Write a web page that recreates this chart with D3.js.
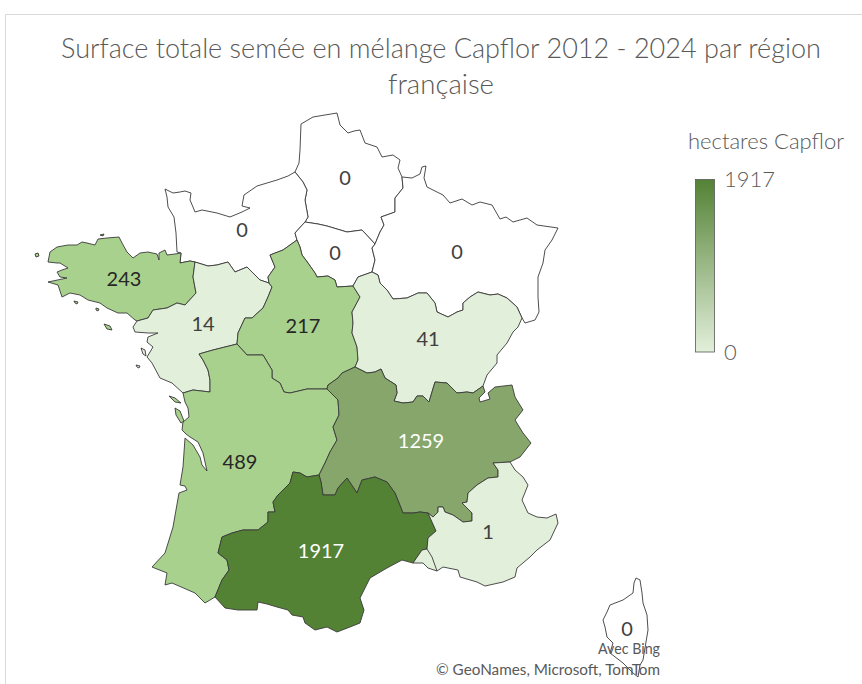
<!DOCTYPE html>
<html>
<head>
<meta charset="utf-8">
<script src="https://cdn.jsdelivr.net/npm/d3@7"></script>
<style>
  html, body { margin: 0; background: #fff; }
  text { font-family: Lato, "Open Sans", sans-serif; }
</style>
</head>
<body>
<div id="chart"></div>
<script>
const titleLines = ["Surface totale semée en mélange Capflor 2012 - 2024 par région", "française"]
const legendTitle = "hectares Capflor"
const creditLines = ["Avec Bing", "© GeoNames, Microsoft, TomTom"]

const regionNames = ["Hauts-de-France", "Normandie", "Ile-de-France", "Grand Est", "Bretagne", "Pays de la Loire",
    "Centre-Val de Loire", "Bourgogne-Franche-Comté", "Nouvelle-Aquitaine", "Auvergne-Rhône-Alpes", "Occitanie", "PACA", "Corse"]
const regionValues = [0, 0, 0, 0, 243, 14, 217, 41, 489, 1259, 1917, 1, 0]

const legendDomain = [0, 1917]
const classBreaks = [1, 100, 1000, 1500]
const classColors = ["#ffffff", "#e2efda", "#a9d18e", "#86a66b", "#548235"]

// map outlines, traced in map units, shared borders kept as single arcs
const coastNorm = [[181,253],[177,252],[176,233],[174,217],[168,207],[167,197],[165,189],[173,193],[180,192],[185,191],[191,193],[190,200],[193,207],[195,212],[202,210],[217,213],[230,217],[242,212],[250,208],[242,206],[244,195],[257,186],[277,180],[288,176],[295,172]]
const coastHdf = [[295,172],[299,163],[300,150],[301,124],[313,117],[337,113],[340,125],[348,133],[354,131],[360,130],[365,143],[377,147],[382,157],[393,155],[400,160],[398,168],[402,177]]
const coastGe = [[402,177],[412,178],[420,174],[422,167],[426,166],[424,178],[427,187],[443,195],[450,203],[462,199],[472,205],[480,202],[492,205],[500,219],[506,217],[513,222],[527,218],[537,225],[558,228],[552,240],[545,250],[543,263],[538,277],[538,297],[539,312],[535,320],[525,323],[522,318]]
const normHdf = [[295,172],[303,182],[307,190],[305,200],[308,217],[305,222]]
const normIdf = [[305,222],[295,233],[297,240]]
const normCvl = [[297,240],[283,250],[270,255],[275,267],[268,277],[269,283]]
const normPdl = [[269,283],[260,280],[253,273],[247,267],[235,272],[228,262],[217,265],[208,266],[195,262]]
const normBre = [[195,262],[190,261],[180,263],[181,253]]
const hdfGe = [[402,177],[403,188],[395,198],[395,212],[381,217],[384,225],[380,232],[375,244]]
const hdfIdf = [[375,244],[362,230],[347,232],[327,226],[318,224],[305,222]]
const idfGe = [[375,244],[372,248],[375,260],[372,272]]
const idfBfc = [[372,272],[358,277],[353,286]]
const cvlIdf = [[353,286],[337,287],[335,280],[328,276],[317,277],[315,273],[308,263],[302,255],[300,247],[297,240]]
const geBfc = [[522,318],[517,307],[507,298],[498,294],[490,295],[478,292],[470,297],[463,303],[463,310],[457,312],[448,317],[437,312],[435,303],[427,293],[418,293],[407,298],[393,299],[387,290],[380,283],[378,275],[372,272]]
const bfcEast = [[522,318],[518,327],[513,332],[507,343],[497,355],[497,363],[487,375],[483,386]]
const bfcAra = [[483,386],[473,393],[467,392],[457,393],[447,383],[435,382],[429,402],[423,396],[417,396],[413,402],[403,403],[394,401],[397,393],[396,385],[385,378],[381,369],[375,372],[367,373],[355,367]]
const cvlBfc = [[353,286],[360,297],[352,312],[353,323],[352,333],[357,347],[358,360],[355,367]]
const cvlAra = [[355,367],[342,373],[338,378],[328,385],[327,389]]
const cvlNa = [[327,389],[307,389],[290,393],[284,392],[280,383],[272,378],[272,370],[263,355],[258,355],[247,355],[237,344]]
const pdlCvl = [[237,344],[238,333],[245,318],[252,318],[263,308],[268,297],[272,287],[269,283]]
const pdlNa = [[237,344],[213,350],[199,354],[203,360],[208,370],[210,380],[210,392],[193,390],[183,393]]
const coastPdl = [[183,393],[172,383],[160,378],[152,363],[147,357],[153,347],[147,342],[148,337],[158,333],[148,333],[135,332],[133,327],[137,321]]
const coastBre = [[181,253],[175,254],[167,255],[165,250],[159,253],[159,260],[157,254],[148,252],[140,253],[133,258],[127,252],[122,243],[119,237],[107,238],[98,239],[95,245],[87,243],[82,242],[77,245],[68,245],[57,247],[50,252],[48,262],[57,263],[60,263],[68,268],[62,270],[57,272],[60,277],[67,278],[48,282],[58,285],[62,297],[70,293],[80,295],[88,300],[100,303],[107,308],[118,313],[127,313],[135,320],[137,321]]
const brePdl = [[137,321],[148,318],[153,310],[167,308],[177,303],[185,305],[196,293],[193,277],[195,262]]
const coastNa = [[183,393],[185,402],[188,408],[189,417],[183,422],[182,430],[186,434],[190,437],[198,442],[203,453],[207,471],[202,465],[200,457],[193,445],[185,438],[183,467],[180,485],[185,486],[187,490],[179,493],[173,527],[165,553],[152,567],[167,573],[165,585],[172,583],[195,593],[205,603],[215,597]]
const naAra = [[327,389],[338,400],[339,415],[333,427],[337,440],[330,452],[325,463],[319,475]]
const naOcc = [[319,475],[307,477],[300,473],[293,472],[290,483],[278,495],[273,502],[275,512],[268,512],[268,522],[258,530],[243,530],[232,533],[222,537],[218,553],[227,560],[229,570],[222,580],[215,597]]
const coastAra = [[483,386],[485,392],[479,398],[480,402],[490,399],[488,393],[495,387],[512,385],[515,397],[523,410],[515,420],[523,433],[531,443],[520,457],[510,462]]
const araPaca = [[510,462],[493,463],[498,470],[498,477],[488,478],[477,485],[468,493],[467,502],[462,503],[472,513],[472,521],[463,522],[453,515],[445,512],[443,507],[438,507],[438,512],[433,517],[428,513]]
const araOcc = [[428,513],[420,512],[413,513],[403,513],[395,493],[387,482],[375,477],[362,480],[357,493],[347,478],[338,488],[335,495],[323,495],[321,482],[319,475]]
const occPaca = [[428,513],[436,531],[428,538],[427,549],[422,550],[413,563]]
const coastOcc = [[413,563],[402,560],[387,568],[370,578],[365,588],[360,598],[364,610],[360,623],[350,627],[337,632],[327,627],[315,630],[305,623],[303,617],[292,615],[288,610],[277,607],[267,604],[258,602],[257,610],[238,610],[225,608],[215,597]]
const coastPaca = [[510,462],[515,470],[523,477],[528,485],[522,500],[528,513],[537,517],[547,518],[556,514],[558,523],[550,540],[537,550],[530,557],[517,568],[515,577],[503,582],[485,586],[477,582],[460,577],[458,570],[443,567],[437,571],[428,568],[423,563],[413,563]]
const rhone = [[427,549],[432,557],[437,571]]
const corse = [[636,578],[640,580],[642,593],[643,603],[647,615],[648,630],[646,642],[643,660],[640,665],[638,677],[633,673],[623,663],[610,653],[613,643],[607,637],[605,627],[603,620],[607,612],[610,605],[623,600],[633,593],[634,583],[636,578]]

const islandsBre = [[[35,254],[38,253],[39,256],[36,257]],[[74,301],[78,302],[77,304],[75,303]],[[96,308],[99,309],[98,311],[96,310]],[[100,235],[104,234],[103,236]],[[104,324],[110,326],[112,330],[107,329]]]
const islandsPdl = [[[141,348],[145,350],[146,356],[143,354]],[[136,365],[140,366],[139,368],[137,367]]]
const islandsNa = [[[169,396],[175,398],[181,403],[175,402]],[[175,408],[180,411],[184,421],[181,423],[176,415]]]

const rev = a => a.slice().reverse()
const ring = (...parts) => {
    const r = parts.flat()
    r.push(r[0])
    return r
}

const regionRings = [
    ring(coastHdf, hdfGe, hdfIdf, rev(normHdf)),
    ring(coastNorm, normHdf, normIdf, normCvl, normPdl, normBre),
    ring(rev(hdfIdf), idfGe, idfBfc, cvlIdf, rev(normIdf)),
    ring(coastGe, geBfc, rev(idfGe), rev(hdfGe)),
    ring(coastBre, brePdl, normBre),
    ring(rev(normPdl), rev(pdlCvl), pdlNa, coastPdl, brePdl),
    ring(rev(cvlIdf), cvlBfc, cvlAra, cvlNa, pdlCvl, rev(normCvl)),
    ring(rev(geBfc), bfcEast, bfcAra, rev(cvlBfc), rev(idfBfc)),
    ring(rev(cvlNa), naAra, naOcc, rev(coastNa), rev(pdlNa)),
    ring(rev(naAra), rev(cvlAra), rev(bfcAra), coastAra, araPaca, araOcc),
    ring(rev(naOcc), rev(araOcc), occPaca, coastOcc),
    ring(rev(occPaca), rev(araPaca), coastPaca),
    corse
]
const regionIslands = {"Bretagne": islandsBre, "Pays de la Loire": islandsPdl, "Nouvelle-Aquitaine": islandsNa}
const labelAnchors = [[345,178],[242,230],[335,253],[457,252],[124,279],[203,324],[303,326],[428,339],[240,462],[421,441],[321,551],[488,532],[627,629]]

const width = 862, height = 684

const svg = d3.select("#chart")
    .append("svg")
    .attr("width", width)
    .attr("height", height)
    .style("display", "block")

// chart frame, only top and left show in the crop
svg.append("path")
    .attr("d", `M5.5,${height} V14.5 H${width}`)
    .attr("fill", "none")
    .attr("stroke", "#d9d9d9")

// Lato runs wider than the original font, so squeeze the long line to its width
svg.append("g")
    .selectAll("text")
    .data(titleLines)
    .enter()
    .append("text")
    .attr("x", 441)
    .attr("y", (d, i) => 58 + i * 36)
    .attr("text-anchor", "middle")
    .attr("font-size", 28)
    .attr("font-weight", 300)
    .attr("fill", "#595959")
    .attr("textLength", (d, i) => i === 0 ? 760 : 106)
    .attr("lengthAdjust", "spacingAndGlyphs")
    .text(d => d)

const color = d3.scaleThreshold().domain(classBreaks).range(classColors)

const features = regionNames.map((name, i) => {
    const closeIt = r => r.concat([r[0]])
    const islands = (regionIslands[name] || []).map(r => [closeIt(r)])
    return {
        type: "Feature",
        properties: {name, value: regionValues[i]},
        geometry: {type: "MultiPolygon", coordinates: [[regionRings[i]], ...islands]}
    }
})

const projection = d3.geoIdentity()
const path = d3.geoPath().projection(projection)

svg.append("g")
    .selectAll("path")
    .data(features)
    .enter()
    .append("path")
    .attr("d", path)
    .attr("fill", d => d.properties.name === "Corse" ? "none" : color(d.properties.value))
    .attr("stroke", "#3a3a3a")
    .attr("stroke-width", 0.9)
    .attr("stroke-linejoin", "round")

svg.append("path")
    .datum({type: "LineString", coordinates: rhone})
    .attr("d", path)
    .attr("fill", "none")
    .attr("stroke", "#3a3a3a")
    .attr("stroke-width", 0.9)

const labelColor = v => v >= 1000 ? "#ffffff" : v >= 100 ? "#262626" : "#404040"

svg.append("g")
    .selectAll("text")
    .data(features)
    .enter()
    .append("text")
    .attr("x", (d, i) => projection(labelAnchors[i])[0])
    .attr("y", (d, i) => projection(labelAnchors[i])[1])
    .attr("dy", "0.35em")
    .attr("text-anchor", "middle")
    .attr("font-size", 20)
    .attr("fill", d => labelColor(d.properties.value))
    .text(d => d.properties.value)

// legend
const defs = svg.append("defs")
const grad = defs.append("linearGradient")
    .attr("id", "legend-grad")
    .attr("x1", 0).attr("x2", 0).attr("y1", 1).attr("y2", 0)
grad.append("stop").attr("offset", "0%").attr("stop-color", classColors[1])
grad.append("stop").attr("offset", "100%").attr("stop-color", classColors[4])

const legendY = d3.scaleLinear().domain(legendDomain).range([352, 179.5])

svg.append("text")
    .attr("x", 766)
    .attr("y", 149)
    .attr("text-anchor", "middle")
    .attr("font-size", 22)
    .attr("font-weight", 300)
    .attr("fill", "#595959")
    .text(legendTitle)

svg.append("rect")
    .attr("x", 695.5)
    .attr("y", legendY(legendDomain[1]))
    .attr("width", 19)
    .attr("height", legendY(legendDomain[0]) - legendY(legendDomain[1]))
    .attr("fill", "url(#legend-grad)")
    .attr("stroke", "#595959")
    .attr("stroke-width", 0.8)

const legendAxis = svg.append("g")
    .attr("transform", "translate(724,0)")
    .call(d3.axisRight(legendY).tickValues(legendDomain).tickSize(0).tickPadding(0).tickFormat(d3.format("d")))
legendAxis.select(".domain").remove()
legendAxis.selectAll("text")
    .attr("font-size", 22)
    .attr("font-weight", 300)
    .attr("font-family", "Lato")
    .attr("fill", "#595959")

svg.append("g")
    .selectAll("text")
    .data(creditLines)
    .enter()
    .append("text")
    .attr("x", 660)
    .attr("y", (d, i) => 654 + i * 21)
    .attr("text-anchor", "end")
    .attr("font-size", 14.5)
    .attr("fill", "#595959")
    .attr("textLength", (d, i) => i === 0 ? 62 : 224)
    .attr("lengthAdjust", "spacingAndGlyphs")
    .text(d => d)
</script>
</body>
</html>
